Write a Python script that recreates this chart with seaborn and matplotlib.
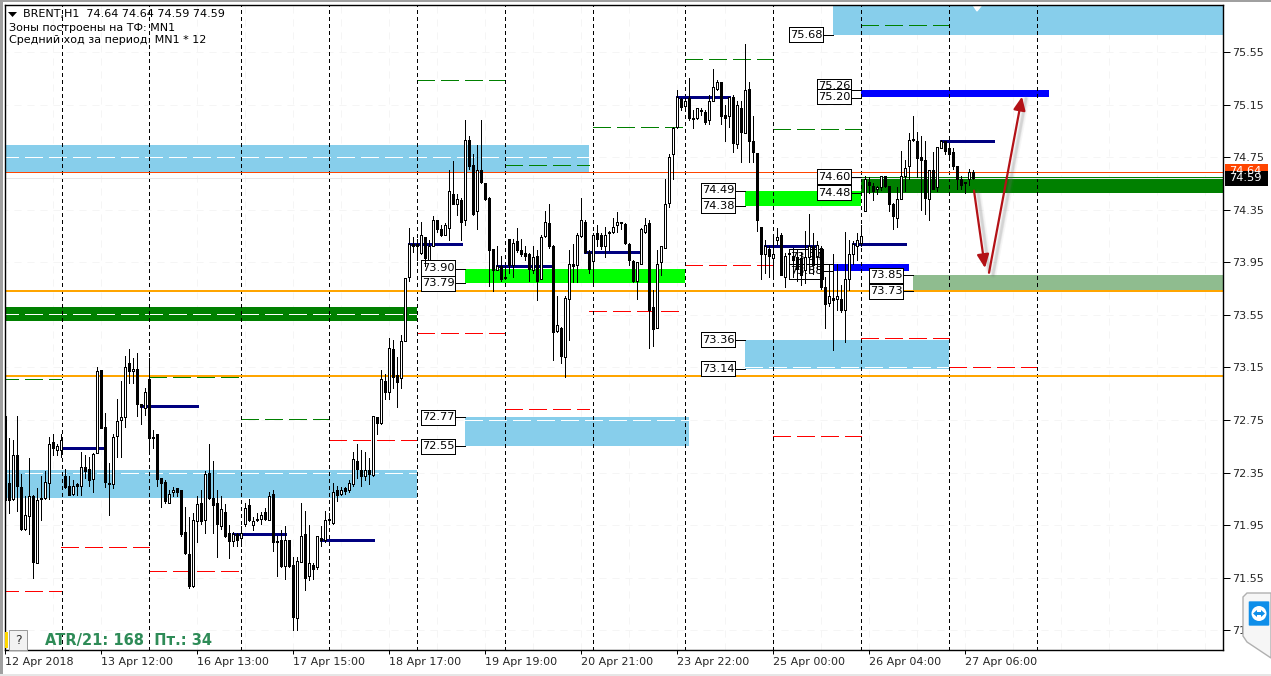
import matplotlib
matplotlib.use("Agg")
import matplotlib.pyplot as plt
from matplotlib.patches import Rectangle, Polygon, Ellipse, FancyBboxPatch
import numpy as np
import pandas as pd
import seaborn as sns

# H1 candles
opens = [
    72.78, 72.27, 72.15, 72.48, 72.24, 71.92, 72.02, 72.17, 71.66, 72.15,
    72.16, 72.27, 72.58, 72.52, 72.52, 72.32, 72.25, 72.19, 72.26, 72.25,
    72.39, 72.38, 72.30, 72.50, 73.13, 72.70, 72.27, 72.26, 72.63, 72.75,
    72.77, 73.18, 73.12, 73.14, 72.87, 72.84, 73.06, 72.62, 72.64, 72.31,
    72.28, 72.12, 72.20, 72.23, 72.22, 71.90, 71.73, 71.49, 71.98, 72.12,
    71.99, 72.35, 72.16, 72.12, 71.94, 72.05, 71.89, 71.83, 71.88, 71.85,
    71.96, 72.10, 71.95, 71.99, 72.00, 72.05, 71.99, 72.19, 71.83, 71.84,
    71.64, 71.84, 71.65, 71.24, 71.67, 71.88, 71.56, 71.65, 71.63, 71.85,
    71.84, 71.99, 71.97, 72.22, 72.19, 72.23, 72.22, 72.26, 72.44, 72.37,
    72.32, 72.37, 72.33, 72.77, 72.73, 73.05, 72.96, 73.29, 73.09, 73.07,
    73.35, 73.84, 74.09, 74.09, 74.02, 74.14, 73.97, 74.07, 74.27, 74.20,
    74.16, 74.21, 74.47, 74.39, 74.42, 74.27, 74.88, 74.69, 74.34, 74.65,
    74.55, 74.44, 74.05, 73.89, 73.92, 73.83, 74.13, 73.93, 74.11, 74.04,
    74.02, 74.01, 73.89, 74.00, 73.82, 74.15, 74.25, 74.07, 73.43, 73.45,
    73.23, 73.67, 73.94, 73.93, 74.15, 74.26, 74.03, 73.96, 74.17, 74.16,
    74.07, 74.18, 74.18, 74.23, 74.25, 74.24, 74.09, 73.96, 73.81, 73.94,
    74.18, 74.25, 73.61, 73.45, 73.95, 74.06, 74.40, 74.77, 74.98, 75.19,
    75.14, 75.20, 75.05, 75.05, 75.10, 75.09, 75.03, 75.18, 75.27, 75.32,
    75.07, 75.06, 75.21, 74.85, 75.12, 74.93, 75.27, 74.87, 74.78, 74.22,
    74.01, 74.05, 73.98, 74.12, 74.16, 73.84, 74.02, 74.00, 73.99, 73.98,
    73.89, 73.99, 74.07, 74.00, 74.06, 73.76, 73.64, 73.68, 73.67, 73.67,
    73.59, 73.82, 74.01, 74.07, 74.10, 74.34, 74.56, 74.53, 74.51, 74.52,
    74.61, 74.53, 74.39, 74.29, 74.43, 74.61, 74.68, 74.89, 74.87, 74.75,
    74.73, 74.43, 74.65, 74.52, 74.82, 74.87, 74.82, 74.79, 74.68, 74.58,
    74.55, 74.58, 74.64,
]
closes = [
    72.14, 72.14, 72.48, 72.25, 71.92, 72.03, 72.17, 71.67, 72.14, 72.16,
    72.28, 72.57, 72.54, 72.55, 72.60, 72.24, 72.18, 72.25, 72.25, 72.39,
    72.36, 72.29, 72.49, 73.12, 72.69, 72.28, 72.26, 72.62, 72.74, 72.77,
    73.15, 73.12, 73.14, 72.87, 72.86, 72.96, 72.61, 72.61, 72.30, 72.27,
    72.13, 72.19, 72.22, 72.20, 71.88, 71.74, 71.49, 71.99, 72.11, 71.98,
    72.34, 72.16, 72.10, 71.96, 72.07, 71.87, 71.83, 71.88, 71.84, 71.89,
    72.08, 71.99, 71.98, 72.00, 72.03, 72.00, 72.17, 71.82, 71.82, 71.64,
    71.84, 71.64, 71.25, 71.68, 71.87, 71.55, 71.66, 71.62, 71.87, 71.84,
    71.99, 72.00, 72.20, 72.18, 72.22, 72.21, 72.27, 72.45, 72.38, 72.32,
    72.37, 72.34, 72.78, 72.73, 73.06, 72.96, 73.30, 73.08, 73.04, 73.35,
    73.83, 74.09, 74.07, 74.07, 74.16, 73.98, 74.07, 74.27, 74.20, 74.16,
    74.23, 74.49, 74.39, 74.43, 74.26, 74.88, 74.68, 74.32, 74.65, 74.56,
    74.43, 74.04, 73.89, 73.92, 73.82, 73.84, 73.93, 74.10, 74.04, 74.01,
    74.00, 73.90, 73.99, 73.81, 74.14, 74.26, 74.07, 73.42, 73.47, 73.24,
    73.68, 73.94, 73.92, 74.16, 74.27, 74.03, 73.90, 74.16, 74.13, 74.07,
    74.16, 74.17, 74.22, 74.26, 74.26, 74.10, 73.97, 73.81, 73.95, 74.20,
    74.23, 73.59, 73.44, 73.94, 74.07, 74.39, 74.75, 74.97, 75.21, 75.13,
    75.18, 75.05, 75.04, 75.12, 75.10, 75.02, 75.18, 75.28, 75.32, 75.06,
    75.05, 75.21, 74.86, 75.15, 74.94, 75.26, 74.87, 74.79, 74.27, 74.01,
    74.07, 74.00, 74.01, 74.14, 73.85, 74.00, 74.01, 73.97, 73.90, 73.85,
    73.99, 74.07, 73.93, 74.08, 73.76, 73.63, 73.69, 73.66, 73.69, 73.59,
    73.82, 74.01, 74.09, 74.12, 74.15, 74.58, 74.54, 74.49, 74.52, 74.61,
    74.53, 74.39, 74.30, 74.43, 74.61, 74.67, 74.88, 74.88, 74.74, 74.73,
    74.44, 74.65, 74.51, 74.83, 74.87, 74.80, 74.77, 74.68, 74.58, 74.54,
    74.56, 74.64, 74.59,
]
highs = [
    72.78, 72.61, 72.60, 72.78, 72.34, 72.17, 72.46, 72.18, 72.23, 72.32,
    72.36, 72.62, 72.64, 72.57, 72.64, 72.38, 72.32, 72.29, 72.27, 72.51,
    72.48, 72.47, 72.50, 73.15, 73.13, 72.80, 72.42, 72.64, 72.91, 73.05,
    73.24, 73.29, 73.22, 73.26, 72.87, 72.99, 73.22, 72.67, 72.64, 72.31,
    72.29, 72.22, 72.24, 72.23, 72.22, 72.09, 72.01, 72.04, 72.17, 72.22,
    72.36, 72.57, 72.44, 72.22, 72.17, 72.11, 71.95, 71.90, 71.89, 71.94,
    72.12, 72.15, 72.01, 72.04, 72.05, 72.08, 72.20, 72.22, 71.87, 71.91,
    71.94, 71.84, 71.71, 71.71, 72.12, 72.06, 71.95, 71.66, 71.87, 71.94,
    72.06, 72.04, 72.27, 72.25, 72.24, 72.24, 72.29, 72.51, 72.57, 72.52,
    72.51, 72.46, 72.78, 72.77, 73.13, 73.10, 73.37, 73.36, 73.23, 73.40,
    73.83, 74.21, 74.14, 74.13, 74.26, 74.14, 74.12, 74.30, 74.27, 74.23,
    74.25, 74.65, 74.72, 74.47, 74.44, 75.03, 74.91, 74.77, 74.84, 75.03,
    74.55, 74.45, 74.05, 74.07, 74.00, 73.92, 74.13, 74.13, 74.21, 74.13,
    74.07, 74.02, 74.07, 74.04, 74.16, 74.34, 74.39, 74.08, 73.69, 73.46,
    73.69, 74.04, 74.09, 74.17, 74.44, 74.27, 74.04, 74.17, 74.23, 74.17,
    74.22, 74.19, 74.29, 74.33, 74.26, 74.25, 74.10, 73.97, 73.95, 74.21,
    74.29, 74.27, 73.74, 74.04, 74.07, 74.58, 74.77, 74.98, 75.26, 75.20,
    75.20, 75.35, 75.11, 75.12, 75.12, 75.11, 75.22, 75.42, 75.34, 75.32,
    75.15, 75.21, 75.22, 75.18, 75.18, 75.61, 75.32, 75.06, 74.78, 74.22,
    74.12, 74.07, 74.16, 74.21, 74.17, 74.02, 74.04, 74.06, 74.04, 74.03,
    74.19, 74.32, 74.17, 74.11, 74.07, 73.84, 73.94, 74.01, 73.94, 73.78,
    74.18, 74.12, 74.11, 74.17, 74.23, 74.61, 74.60, 74.55, 74.53, 74.61,
    74.61, 74.53, 74.40, 74.52, 74.80, 74.73, 74.93, 75.06, 74.94, 74.91,
    74.87, 74.65, 74.79, 74.83, 74.88, 74.87, 74.83, 74.82, 74.68, 74.61,
    74.56, 74.66, 74.65,
]
lows = [
    72.06, 72.04, 72.14, 72.06, 71.91, 71.91, 71.88, 71.55, 71.66, 71.99,
    72.15, 72.15, 72.48, 72.48, 72.47, 72.23, 72.18, 72.18, 72.18, 72.18,
    72.31, 72.25, 72.20, 72.50, 72.69, 72.24, 72.03, 72.23, 72.47, 72.47,
    72.70, 73.03, 73.03, 72.78, 72.72, 72.79, 72.52, 72.54, 72.25, 72.09,
    72.12, 72.12, 72.17, 72.17, 71.87, 71.73, 71.47, 71.48, 71.82, 71.96,
    71.89, 72.15, 71.89, 71.71, 71.92, 71.86, 71.70, 71.79, 71.79, 71.79,
    71.94, 71.98, 71.91, 71.98, 71.96, 71.99, 71.99, 71.75, 71.56, 71.63,
    71.54, 71.63, 71.15, 71.15, 71.67, 71.46, 71.53, 71.54, 71.62, 71.79,
    71.82, 71.96, 71.96, 72.13, 72.18, 72.19, 72.20, 72.25, 72.31, 72.25,
    72.29, 72.26, 72.32, 72.64, 72.72, 72.91, 72.91, 72.99, 72.85, 72.99,
    73.35, 73.81, 74.03, 73.97, 74.01, 73.92, 73.97, 74.07, 74.18, 74.15,
    74.16, 74.12, 74.39, 74.31, 74.12, 74.23, 74.66, 74.31, 74.20, 74.55,
    74.42, 73.77, 73.73, 73.89, 73.81, 73.83, 73.87, 73.84, 74.03, 74.00,
    73.97, 73.81, 73.87, 73.66, 73.82, 74.14, 74.06, 73.21, 73.42, 73.18,
    73.08, 73.36, 73.80, 73.80, 74.14, 74.02, 73.87, 73.79, 74.07, 74.05,
    73.99, 74.04, 74.17, 74.18, 74.20, 74.09, 73.93, 73.80, 73.67, 73.94,
    74.17, 73.30, 73.31, 73.45, 73.85, 74.06, 74.37, 74.58, 74.97, 75.11,
    75.11, 75.03, 74.97, 75.04, 75.07, 75.00, 75.00, 75.18, 75.26, 75.00,
    74.87, 74.98, 74.79, 74.82, 74.71, 74.93, 74.71, 74.71, 74.19, 73.82,
    73.87, 73.84, 73.84, 74.09, 73.85, 73.76, 73.87, 73.84, 73.81, 73.78,
    73.79, 73.87, 73.86, 73.90, 73.75, 73.45, 73.62, 73.28, 73.59, 73.57,
    73.34, 73.74, 73.94, 73.97, 74.07, 74.34, 74.48, 74.42, 74.47, 74.50,
    74.52, 74.34, 74.20, 74.22, 74.43, 74.49, 74.58, 74.87, 74.60, 74.35,
    74.32, 74.27, 74.51, 74.49, 74.82, 74.77, 74.75, 74.66, 74.51, 74.51,
    74.48, 74.54, 74.58,
]

# zones: start bar, end bar, top, bottom, colour
zone_start = [-1, -1, -1, 115, 115, 185, 214, 185, 227, 207, 214, 207]
zone_end = [146, 103, 103, 171, 170, 214, 306, 236, 306, 306, 261, 226]
zone_top = [74.84, 73.61, 72.37, 72.77, 73.90, 74.49, 74.60, 73.36, 73.85, 75.92, 75.26, 73.94]
zone_bottom = [74.63, 73.505, 72.16, 72.55, 73.79, 74.38, 74.48, 73.14, 73.73, 75.68, 75.21, 73.88]
zone_color = ["#87ceeb", "#008000", "#87ceeb", "#87ceeb", "#00ff00", "#00ff00",
              "#008000", "#87ceeb", "#8fbc8f", "#87ceeb", "#0000ff", "#0000ff"]

# white dashed line inside the zones
mid_start = [-1, -1, -1, 115, 185]
mid_end = [146, 103, 103, 171, 236]
mid_price = [74.75, 73.56, 72.35, 72.75, 73.15]

# daily levels
green_start = [-1, 36, 59, 103, 125, 147, 170, 192, 214]
green_end = [14, 59, 81, 125, 146, 170, 192, 214, 236]
green_price = [73.06, 73.08, 72.76, 75.34, 74.69, 74.98, 75.50, 74.96, 75.755]
red_start = [-1, 14, 36, 81, 103, 125, 146, 170, 192, 214, 236]
red_end = [14, 36, 59, 103, 125, 146, 169, 192, 214, 236, 258]
red_price = [71.45, 71.78, 71.60, 72.60, 73.41, 72.83, 73.58, 73.93, 72.63, 73.37, 73.15]

# short navy lines
navy_start = [14, 34, 57, 79, 101, 123, 145, 168, 190, 212, 234]
navy_end = [25, 48, 70, 92, 114, 137, 159, 181, 203, 225, 247]
navy_price = [72.54, 72.86, 71.88, 71.84, 74.09, 73.92, 74.03, 75.21, 74.07, 74.09, 74.87]

# price tags on the zones
tag_text = ["73.90", "73.79", "72.77", "72.55", "74.49", "74.38", "73.36", "73.14", "75.68",
            "75.26", "75.20", "74.60", "74.48", "73.94", "73.88", "73.85", "73.73"]
tag_left = [104, 104, 104, 104, 174, 174, 174, 174, 196, 203, 203, 203, 203, 196, 196, 216, 216]
tag_mid = [73.906, 73.79, 72.77, 72.55, 74.496, 74.38, 73.36, 73.14, 75.68,
           75.29, 75.21, 74.60, 74.48, 73.99, 73.88, 73.85, 73.73]
tag_link = [73.90, 73.79, 72.77, 72.55, 74.49, 74.38, 73.36, 73.14, 75.68,
            75.26, 75.20, 74.60, 74.48, 73.94, 73.88, 73.85, 73.73]
tag_end = [115, 115, 115, 115, 185, 185, 185, 185, 207, 214, 214, 214, 214, 207, 207, 227, 227]

session_bars = [14.25, 36, 59, 81, 103, 125, 147, 170, 192, 214, 236, 258]
orange_levels = [73.73, 73.085]
price_ticks = [75.55, 75.15, 74.75, 74.35, 73.95, 73.55, 73.15, 72.75, 72.35, 71.95, 71.55, 71.15]
time_labels = ["12 Apr 2018", "13 Apr 12:00", "16 Apr 13:00", "17 Apr 15:00", "18 Apr 17:00",
               "19 Apr 19:00", "20 Apr 21:00", "23 Apr 22:00", "25 Apr 00:00", "26 Apr 04:00",
               "27 Apr 06:00"]

W, H = 1271, 676
DASH = (0, (18, 6))
PX = 0.72  # one pixel in points at dpi 100

sns.set_style("white")
plt.rcParams["font.family"] = ["DejaVu Sans"]
plt.rcParams["font.size"] = 8

fig = plt.figure(figsize=(W / 100, H / 100), dpi=100, facecolor="white")
ax = fig.add_axes([4.5 / W, 26 / H, 1218.5 / W, 645.5 / H])


def level(x0, x1, price, color, z, style="-", width=PX):
    sns.lineplot(x=[x0, x1], y=[price, price], ax=ax, color=color, linewidth=width, linestyle=style,
                 estimator=None, sort=False, zorder=z, legend=False, antialiased=False)


def fig_box(x0, y0, x1, y1, **kw):
    fig.add_artist(Rectangle((x0 / W, 1 - y1 / H), (x1 - x0) / W, (y1 - y0) / H,
                             transform=fig.transFigure, **kw))


# faint background grid
ax.hlines(price_ticks, -1, 306, color="#f5f5f5", lw=PX, linestyles=(0, (7, 6)), zorder=0.5)
ax.vlines(np.arange(12, 306, 12), 71, 76, color="#f5f5f5", lw=PX, linestyles=(0, (7, 6)), zorder=0.5)

for x0, x1, top, bottom, color in zip(zone_start, zone_end, zone_top, zone_bottom, zone_color):
    ax.add_patch(Rectangle((x0, bottom), x1 - x0, top - bottom, facecolor=color, edgecolor="none",
                           zorder=1, antialiased=False))
ax.fill([241.75, 244.5, 243], [75.92, 75.92, 75.862], color="white", zorder=1.1)

for x0, x1, price in zip(mid_start, mid_end, mid_price):
    level(x0, x1, price, "white", 1.2, DASH)
for x0, x1, price in zip(green_start, green_end, green_price):
    level(x0, x1, price, "#008000", 1.5, DASH)
for x0, x1, price in zip(red_start, red_end, red_price):
    level(x0, x1, price, "#ff0000", 1.5, DASH)

# session separators
for bar in session_bars:
    sns.lineplot(x=[bar, bar], y=[71, 76], ax=ax, color="black", linewidth=PX, linestyle=(0, (3, 3)),
                 estimator=None, sort=False, zorder=2, legend=False, antialiased=False)

for price in orange_levels:
    level(-1, 306, price, "#ffa500", 2.1, "-", 2 * PX)
level(-1, 306, 74.64, "#ff4500", 2.1)
level(-1, 306, 74.59, "#e6e6e6", 2.1)

for text, left, mid, link, end in zip(tag_text, tag_left, tag_mid, tag_link, tag_end):
    level(left + 8.5, end, link, "black", 2.4)
    ax.add_patch(Rectangle((left, mid - 0.058), 8.5, 0.116, facecolor="white", edgecolor="black",
                           linewidth=PX, zorder=2.5, antialiased=False))
    ax.text(left + 4.25, mid, text, ha="center", va="center", fontsize=8.2, color="black", zorder=2.6)

for x0, x1, price in zip(navy_start, navy_end, navy_price):
    level(x0, x1, price, "#000080", 3, "-", 3 * PX)

# candles
bars = np.arange(len(opens))
candles = pd.DataFrame({"bar": bars, "open": opens, "high": highs, "low": lows, "close": closes})
wicks = candles.melt(id_vars="bar", value_vars=["high", "low"], value_name="price").sort_values("bar")
sns.lineplot(data=wicks, x="bar", y="price", units="bar", estimator=None, sort=False, color="black",
             linewidth=PX, ax=ax, zorder=4, legend=False, antialiased=False)
body_low = candles[["open", "close"]].min(axis=1)
body_size = (candles["close"] - candles["open"]).abs().clip(lower=0.008)
body_fill = np.where(candles["close"] >= candles["open"], "white", "black")
ax.bar(bars, body_size, bottom=body_low, width=0.5, color=body_fill, edgecolor="black",
       linewidth=PX, zorder=5, antialiased=False)

# drawn forecast arrows with a soft shadow
arrow_paths = [((242.25, 74.495), (245, 73.906)), ((246, 73.87), (254.25, 75.21))]
for start, tip in arrow_paths:
    for shift, lw, alpha in [(1.0, 5, 0.06), (1.0, 3, 0.1), (1.0, 1.8, 0.16)]:
        ax.annotate("", xy=(tip[0] + shift, tip[1] - 0.015), xytext=(start[0] + shift, start[1] - 0.015), zorder=5.5,
                    arrowprops=dict(arrowstyle="-", color="#707070", lw=lw, alpha=alpha, shrinkA=0, shrinkB=0))
    ax.annotate("", xy=tip, xytext=start, zorder=6,
                arrowprops=dict(arrowstyle="-|>,head_length=1.0,head_width=0.45", color="#b31217", lw=1.6,
                                mutation_scale=8, shrinkA=0, shrinkB=0))

ax.set_xlim(-0.125, 304.5)
ax.set_ylim(71.0, 75.911)
ax.yaxis.tick_right()
ax.set_yticks(price_ticks)
ax.set_yticklabels([f"{p:.2f}" for p in price_ticks])
ax.set_xticks(np.arange(len(time_labels)) * 24)
ax.set_xticklabels(time_labels, ha="left")
ax.tick_params(axis="y", length=5, width=PX, pad=1.5, labelsize=8, color="black", right=True)
ax.tick_params(axis="x", length=3, width=PX, pad=2, labelsize=8, color="black", bottom=True)
ax.set_xlabel("")
ax.set_ylabel("")
for spine in ax.spines.values():
    spine.set_color("black")
    spine.set_linewidth(PX * 1.4)

# right side price tags
for top, bottom, color, text in [(164, 178, "#ff4500", "74.64"), (171, 186, "black", "74.59")]:
    fig_box(1224.5, top, 1268, bottom, facecolor=color, edgecolor="none", zorder=2)
    fig.text(1229 / W, 1 - (top + bottom) / 2 / H, text, color="white", fontsize=8.2,
             va="center", zorder=3)

# header text
fig.add_artist(Polygon([(8 / W, 1 - 12 / H), (17 / W, 1 - 12 / H), (12.5 / W, 1 - 17 / H)],
                       transform=fig.transFigure, facecolor="black", edgecolor="none"))
fig.text(23 / W, 1 - 14.5 / H, "BRENT,H1  74.64 74.64 74.59 74.59", fontsize=8, va="center", color="black")
fig.text(9 / W, 1 - 28 / H, "Зоны построены на ТФ: MN1", fontsize=8, va="center", color="black")
fig.text(9 / W, 1 - 40 / H, "Средний ход за период: MN1 * 12", fontsize=8, va="center", color="black")

# ATR panel
fig_box(5, 632, 8, 648, facecolor="#ffd700", edgecolor="none", zorder=2)
fig_box(9, 629.5, 27, 650, facecolor="#f2f2f2", edgecolor="#9a9a9a", linewidth=PX, zorder=2)
fig.text(18 / W, 1 - 640 / H, "?", fontsize=9, ha="center", va="center", color="#333333", zorder=3)
fig.text(45 / W, 1 - 640 / H, "ATR/21: 168  Пт.: 34", fontsize=10.5, fontweight="bold",
         family="DejaVu Sans", va="center", color="#2e8b57", zorder=3)

# window edges
fig_box(0, 0, 2.5, H, facecolor="#a0a0a0", edgecolor="none", zorder=2)
fig_box(0, 0, W, 2, facecolor="#a0a0a0", edgecolor="none", zorder=2)
fig_box(0, 674, W, H, facecolor="#e6e6e6", edgecolor="none", zorder=2)

# remote desktop badge in the corner
badge = [(1271, 593), (1247, 593), (1243, 597), (1243, 636), (1247, 642), (1271, 658)]
fig.add_artist(Polygon([(x / W, 1 - y / H) for x, y in badge], transform=fig.transFigure,
                       facecolor="#f6f6f6", edgecolor="#b0b0b0", linewidth=1, zorder=4))
fig.add_artist(FancyBboxPatch((1250 / W, 1 - 625 / H), 18 / W, 23 / H, boxstyle="round,pad=0.001",
                              transform=fig.transFigure, facecolor="#0e8ee9", edgecolor="none", zorder=5))
fig.add_artist(Ellipse((1259 / W, 1 - 613.5 / H), 15 / W, 15 / H, transform=fig.transFigure,
                       facecolor="white", edgecolor="none", zorder=6))
icon = [(1253, 613.5), (1257, 610), (1257, 612), (1261, 612), (1261, 610), (1265, 613.5),
        (1261, 617), (1261, 615), (1257, 615), (1257, 617)]
fig.add_artist(Polygon([(x / W, 1 - y / H) for x, y in icon], transform=fig.transFigure,
                       facecolor="#0e8ee9", edgecolor="none", zorder=7))

fig.savefig("out.png", dpi=100, facecolor="white")
